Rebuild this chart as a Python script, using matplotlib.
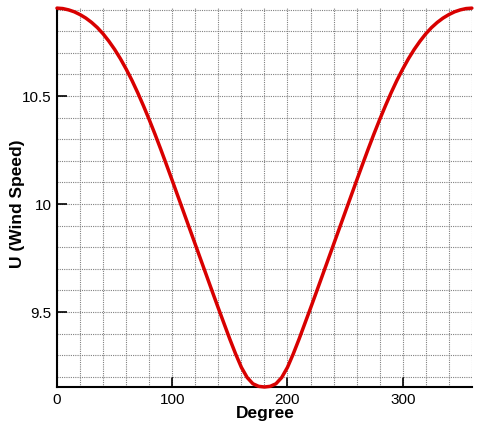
import numpy as np
import matplotlib
matplotlib.use("Agg")
import matplotlib.pyplot as plt
from matplotlib.ticker import MultipleLocator

# values (degree -> wind speed), 0..180, curve is mirrored about 180
degree_half = [0, 5, 10, 15, 20, 25, 30, 35, 40, 45, 50, 55, 60, 65, 70, 75, 80, 85, 90,
               95, 100, 105, 110, 115, 120, 125, 130, 135, 140, 145, 150, 155, 160, 165,
               170, 175, 180]
speed_half = [10.907, 10.905, 10.899, 10.890, 10.877, 10.861, 10.841, 10.817, 10.788,
              10.754, 10.716, 10.673, 10.625, 10.573, 10.516, 10.455, 10.391, 10.324,
              10.254, 10.182, 10.109, 10.035, 9.961, 9.887, 9.813, 9.739, 9.665, 9.591,
              9.518, 9.446, 9.374, 9.306, 9.244, 9.197, 9.168, 9.156, 9.153]

degree = degree_half + [360 - d for d in degree_half[-2::-1]]
wind_speed = speed_half + speed_half[-2::-1]

x_ticks = [0, 100, 200, 300]
y_ticks = [9.5, 10, 10.5]
y_ticklabels = ['9.5', '10', '10.5']

plt.rcParams['font.family'] = ['Liberation Sans', 'DejaVu Sans']

fig = plt.figure(figsize=(4.81, 4.28), dpi=100)
ax = fig.add_axes([0.1185, 0.0958, 0.8625, 0.8852])

ax.plot(degree, wind_speed, color='#d80000', lw=2.5, solid_capstyle='round',
        solid_joinstyle='round', zorder=3, clip_on=False)

ax.set_xlim(0, 360)
ax.set_ylim(9.153, 10.907)

ax.set_xticks(x_ticks)
ax.set_yticks(y_ticks)
ax.set_yticklabels(y_ticklabels)
ax.xaxis.set_minor_locator(MultipleLocator(20))
ax.yaxis.set_minor_locator(MultipleLocator(0.1))

ax.tick_params(which='major', direction='in', length=7, width=1.2, labelsize=11, pad=4)
ax.tick_params(which='minor', length=0)
ax.tick_params(top=False, right=False)

ax.grid(which='both', color='0.5', linestyle=(0, (1, 1)), linewidth=0.8)
ax.set_axisbelow(True)

for side in ['top', 'right']:
    ax.spines[side].set_visible(False)
for side in ['left', 'bottom']:
    ax.spines[side].set_linewidth(1.5)

ax.set_xlabel('Degree', fontsize=12.5, fontweight='bold')
ax.set_ylabel('U (Wind Speed)', fontsize=12.5, fontweight='bold')
ax.xaxis.set_label_coords(0.502, -0.071)
ax.xaxis.label.set_va('center')
ax.yaxis.set_label_coords(-0.095, 0.483)
ax.yaxis.label.set_va('center')

fig.savefig('out.png', dpi=100)
